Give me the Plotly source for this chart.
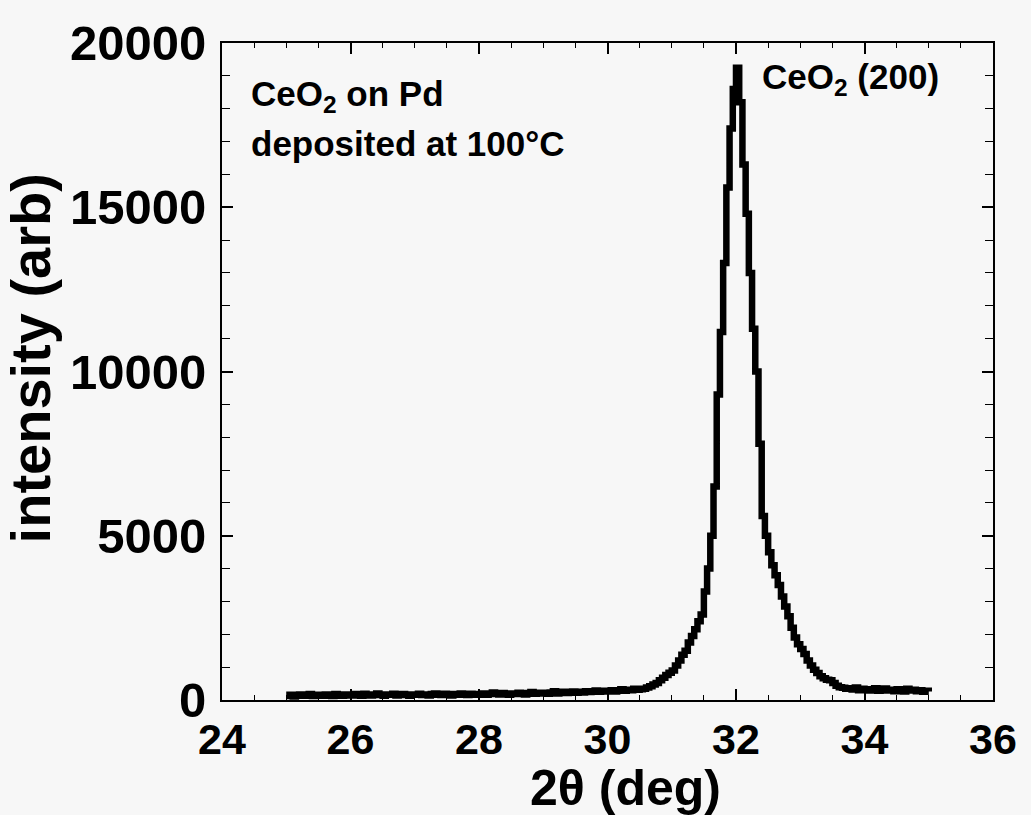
import numpy as np
import plotly.graph_objects as go

# 2theta scan grid (deg): 25.00 .. 35.00 in 0.05 steps
two_theta_start = 25.0
two_theta_step = 0.05

# intensity (arb), one value per scan step
intensity_25_30 = [
    120, 160, 110, 150, 170, 130, 140, 180, 120, 150, 160, 130, 170, 140, 120, 180, 150, 130, 170, 160,
    140, 180, 150, 130, 190, 160, 140, 170, 200, 150, 130, 170, 160, 190, 140, 150, 180, 160, 130, 170,
    160, 190, 150, 170, 140, 180, 200, 160, 150, 190, 170, 140, 180, 160, 200, 170, 150, 190, 180, 160,
    170, 200, 160, 190, 230, 180, 170, 210, 190, 160, 200, 180, 220, 190, 170, 210, 240, 190, 200, 220,
    210, 190, 230, 270, 200, 220, 250, 210, 240, 260, 220, 250, 230, 270, 240, 260, 290, 250, 280, 260,
    270, 300, 260, 290, 330, 280, 310, 300, 340, 310,
]
intensity_peak = [
    330, 340, 380, 420, 470, 520, 600, 680, 760, 830,
    900, 1050, 1200, 1380, 1500, 1750, 1950, 2150, 2400, 2600,
    3300, 4000, 5000, 6500, 9300, 11200, 13300, 15600, 17400, 18600,
    19250, 18200, 16300, 14800, 13000, 11300, 10000, 7800, 5600, 5000,
    4500, 4100, 3800, 3500, 3150, 2850, 2550, 2200, 1900, 1700,
    1550, 1400, 1200, 1050, 920, 820, 720, 660, 620, 600,
    520, 430, 390, 370,
]
intensity_tail = [
    340, 360, 320, 380, 300, 340, 310, 290, 330, 360, 280, 320, 350, 290,
    310, 270, 330, 300, 260, 340, 290, 310, 270, 300, 250, 280, 260,
]

intensity = intensity_25_30 + intensity_peak + intensity_tail
two_theta = np.round(two_theta_start + two_theta_step * np.arange(len(intensity)), 2)

x_ticks = [24, 26, 28, 30, 32, 34, 36]
x_ticktext = ["24", "26", "28", "30", "32", "34", "36"]
y_ticks = [0, 5000, 10000, 15000, 20000]
y_ticktext = ["0", "5000", "10000", "15000", "20000"]

x_title = "2θ (deg)"
y_title = "intensity (arb)"

BG = "#f7f7f7"
FONT = "Liberation Sans, Arial, Helvetica, sans-serif"

fig = go.Figure()
fig.add_trace(go.Scatter(
    x=two_theta, y=intensity, mode="lines",
    line=dict(color="black", width=6.5, shape="hv"),
    showlegend=False, hoverinfo="skip",
))

axis_common = dict(
    showline=True, linecolor="black", linewidth=2, mirror="allticks",
    ticks="inside", tickcolor="black", tickwidth=1.5, ticklen=11,
    showgrid=False, zeroline=False, automargin=False,
)

fig.update_xaxes(
    **axis_common,
    range=[24, 36], tickvals=x_ticks, ticktext=x_ticktext,
    tickfont=dict(family=FONT, size=43, color="black", weight="bold"),
    minor=dict(dtick=0.5, ticks="inside", ticklen=5, tickcolor="black", tickwidth=1.2),
    ticklabelstandoff=0,
)
fig.update_yaxes(
    **axis_common,
    range=[0, 20000], tickvals=y_ticks, ticktext=y_ticktext,
    tickfont=dict(family=FONT, size=49, color="black", weight="bold"),
    minor=dict(dtick=1000, ticks="inside", ticklen=8, tickcolor="black", tickwidth=1.2),
    ticklabelstandoff=4,
)

fig.add_annotation(x=0.523, y=-0.134, xref="paper", yref="paper", xanchor="center", yanchor="middle",
                   text=f"<b>{x_title}</b>", showarrow=False,
                   font=dict(family=FONT, size=50, color="black"))
fig.add_annotation(x=-0.249, y=0.52, xref="paper", yref="paper", xanchor="center", yanchor="middle",
                   textangle=-90, text=f"<b>{y_title}</b>", showarrow=False,
                   font=dict(family=FONT, size=56, color="black"))

ann_font = dict(family=FONT, size=35, color="black")
fig.add_annotation(x=24.42, y=18400, xref="x", yref="y", xanchor="left", yanchor="middle",
                   text="<b>CeO<sub>2</sub> on Pd</b>", showarrow=False, font=ann_font)
fig.add_annotation(x=24.42, y=16950, xref="x", yref="y", xanchor="left", yanchor="middle",
                   text="<b>deposited at 100°C</b>", showarrow=False, font=ann_font)
fig.add_annotation(x=32.37, y=18900, xref="x", yref="y", xanchor="left", yanchor="middle",
                   text="<b>CeO<sub>2</sub> (200)</b>", showarrow=False, font=ann_font)

fig.update_layout(
    width=1031, height=815,
    margin=dict(l=222, r=38, t=43, b=115),
    paper_bgcolor=BG, plot_bgcolor=BG,
    font=dict(family=FONT, color="black"),
)

fig.write_html(
    "out.html",
    config={"displayModeBar": False},
    post_script="document.body.style.margin='0';document.body.style.background='#f7f7f7';"
                "document.body.style.overflow='hidden';",
)
